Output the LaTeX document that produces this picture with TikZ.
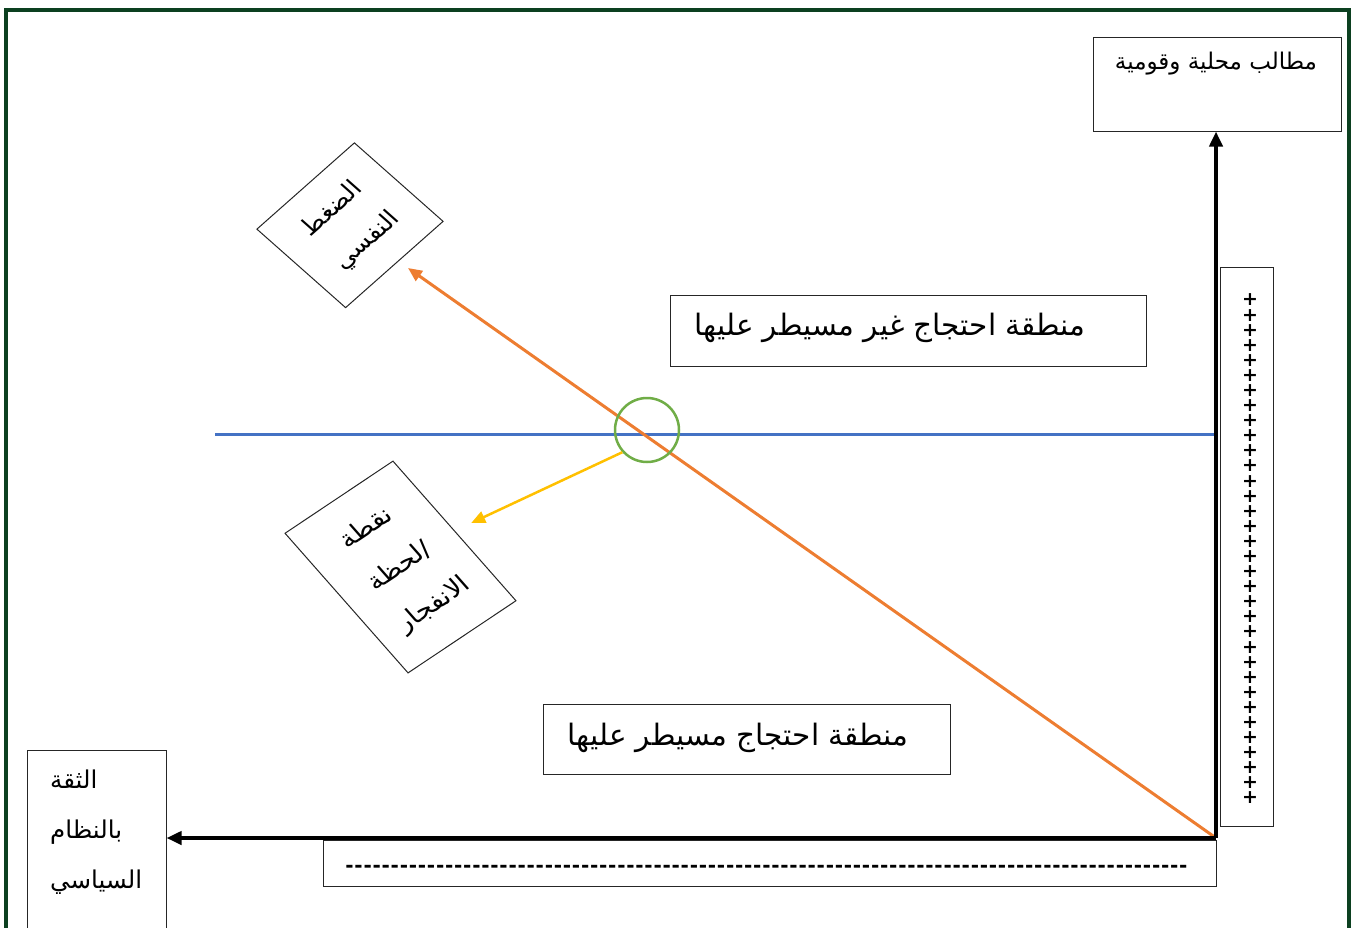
\documentclass[tikz,border=0pt]{standalone}
\usepackage{fontspec}
\usetikzlibrary{arrows.meta,calc}
\TeXXeTstate=1
\newfontfamily\arabicfont[Script=Arabic]{DejaVu Sans}
\definecolor{framegreen}{RGB}{12,64,32}
\definecolor{lineblue}{RGB}{68,114,196}
\definecolor{lineorange}{RGB}{237,125,49}
\definecolor{circlegreen}{RGB}{112,173,71}
\definecolor{lineyellow}{RGB}{255,192,0}
\newcommand{\regionfont}{\arabicfont\fontsize{29.5}{34}\selectfont}
\newcommand{\smallarfont}{\arabicfont\fontsize{23}{26}\selectfont}
\newcommand{\pressfont}{\arabicfont\fontsize{23}{44}\selectfont}
\newcommand{\burstfont}{\arabicfont\fontsize{24}{48}\selectfont}
\newcommand{\trustfont}{\arabicfont\fontsize{24.5}{50}\selectfont}
\tikzset{
  box/.style={draw=black!85, line width=1pt, rectangle, inner sep=0pt},
  axisarrow/.style={line width=4pt, -{Triangle[length=15pt,width=13pt]}},
  lbl/.style={inner sep=0pt},
  plussign/.style={inner sep=0pt, align=center, font=\arabicfont\bfseries\fontsize{19}{15.09}\selectfont},
  tipsmall/.style={-{Triangle[length=14pt,width=12pt]}},
}
\begin{document}
\begin{tikzpicture}[x=1pt,y=-1pt]
\useasboundingbox (0,0) rectangle (1358,927);
% frame
\draw[framegreen, line width=3.5pt] (6,940) -- (6,10) -- (1349,10) -- (1349,940);
\coordinate (origin) at (1216,838);
% boxes
\node[box, minimum width=248pt, minimum height=94pt] (demands) at (1217,84) {};
\node[lbl, font=\smallarfont] (demandsText) at (1216,64) {\beginR مطالب محلية وقومية\endR};
\node[box, minimum width=53pt, minimum height=559pt] (plusbox) at (1246.5,546.5) {};
\node[plussign] (pluses) at (1250,549) {+\\+\\+\\+\\+\\+\\+\\+\\+\\+\\+\\+\\+\\+\\+\\+\\+\\+\\+\\+\\+\\+\\+\\+\\+\\+\\+\\+\\+\\+\\+\\+\\+\\+};
\node[box, minimum width=893pt, minimum height=46pt] (dashbox) at (769.5,863) {};
\node[lbl, font=\arabicfont\bfseries\fontsize{20}{20}\selectfont] (dashes) at (766.5,869) {\hbox to 843pt{\xleaders\hbox to 9pt{\hss-\hss}\hfill}};
\node[box, minimum width=139pt, minimum height=185pt] (trust) at (96.5,842.5) {};
\node[lbl, font=\trustfont, align=left, anchor=west] (trustText) at (50,832) {\beginR الثقة\endR\\\beginR بالنظام\endR\\\beginR السياسي\endR};
\node[box, minimum width=476pt, minimum height=71pt] (uncontrolled) at (908,330.5) {};
\node[lbl, font=\regionfont] (uncontrolledText) at (890,328) {\beginR منطقة احتجاج غير مسيطر عليها\endR};
\node[box, minimum width=407pt, minimum height=70pt] (controlled) at (746.5,739) {};
\node[lbl, font=\regionfont] (controlledText) at (738,738) {\beginR منطقة احتجاج مسيطر عليها\endR};
\begin{scope}[shift={(350,225.25)}, xscale=1.13]
  \node[box, transform shape, rotate=45, minimum width=122pt, minimum height=111pt, align=center, font=\pressfont] (pressure) at (0,0) {\beginR الضغط\endR\\\beginR النفسي\endR};
\end{scope}
\begin{scope}[shift={(400.5,567)}, xscale=1.148]
  \node[box, transform shape, rotate=37.5, minimum width=118.5pt, minimum height=176pt, align=center, font=\burstfont] (burstbox) at (0,0) {\beginR نقطة\endR\\\beginR /لحظة\endR\\\beginR الانفجار\endR};
\end{scope}
% lines
\coordinate (blueStart) at (215,434);
\draw[lineblue, line width=3pt] (blueStart) -- (blueStart -| origin);
\coordinate (pressTip) at (408,268);
\draw[lineorange, line width=3pt, tipsmall] (origin) -- (pressTip);
\node[draw=circlegreen, circle, line width=2.5pt, minimum size=64pt, inner sep=0pt] (burst) at (647,430) {};
\draw[lineyellow, line width=2.5pt, tipsmall, shorten >=18pt] (burst.222) -- (burstbox.east);
% axes
\draw[axisarrow] (origin) -- (origin |- demands.south);
\draw[axisarrow] (origin) -- (origin -| trust.east);
\end{tikzpicture}
\end{document}
